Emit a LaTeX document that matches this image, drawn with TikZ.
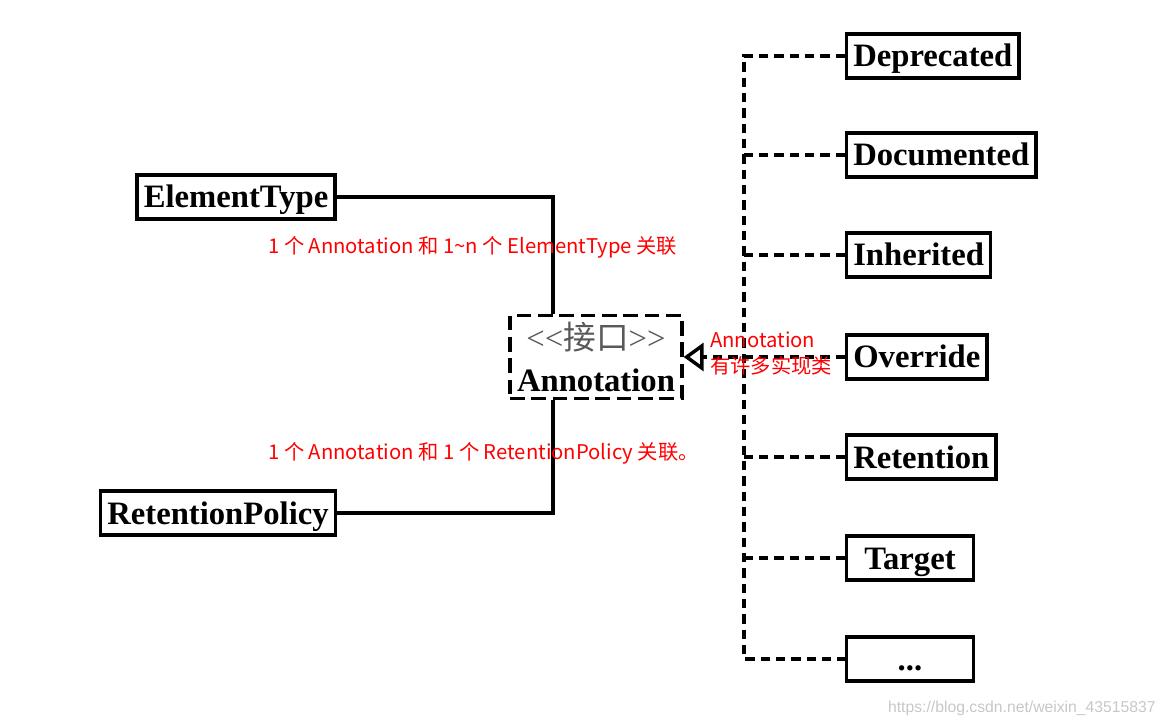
\documentclass[tikz,border=0pt]{standalone}
\usepackage{fontspec}
\setmainfont{Liberation Serif}
\newfontfamily\cjk{Noto Sans CJK SC}
\newfontfamily\wmfont{Liberation Sans}
\usetikzlibrary{arrows.meta,positioning}
\tikzset{
  uml/class/.style={draw, line width=2.4pt, font=\bfseries\fontsize{24.5}{28}\selectfont, minimum height=33pt, inner xsep=5pt, inner ysep=0pt, text height=18.5pt, text depth=2pt},
  uml/impl/.style={uml/class, anchor=west, minimum width=95pt},
  uml/iface/.style={draw, line width=2.4pt, dash pattern=on 11pt off 5pt, align=center, minimum width=129pt, minimum height=62pt, inner sep=0pt, font=\fontsize{24.5}{31.5}\selectfont},
  uml/assoc/.style={line width=2.6pt},
  uml/realize/.style={line width=2.6pt, dash pattern=on 7pt off 4.5pt},
  uml/note/.style={text=red, font=\cjk\fontsize{15.2}{19.5}\selectfont, inner sep=0pt},
  uml/mark/.style={text=black!22, font=\wmfont\fontsize{11.8}{14}\selectfont, inner sep=0pt}
}

\begin{document}
\begin{tikzpicture}[x=0.75pt, y=-0.75pt]
  \useasboundingbox (0,0) rectangle (1164,727);

  % interface in the middle
  \node[uml/iface] (annot) at (596,357) {{\color{black!65}<\kern0pt<{\cjk 接口}>\kern0pt>}\\\textbf{Annotation}};

  % associated classes
  \node[uml/class] (elemtype) at (236,197) {ElementType};
  \node[uml/class] (retpolicy) at (218,513) {RetentionPolicy};

  % implementing classes
  \node[uml/impl] (deprecated) at (845,56) {Deprecated};
  \node[uml/impl] (documented) at (845,155) {Documented};
  \node[uml/impl] (inherited) at (845,255) {Inherited};
  \node[uml/impl] (override) at (845,357) {Override};
  \node[uml/impl] (retention) at (845,457) {Retention};
  \node[uml/impl] (target) at (845,558) {Target};
  \node[uml/impl] (dots) at (845,659) {...};

  % associations
  \coordinate (etbend) at (553,197);
  \coordinate (rpbend) at (553,513);
  \draw[uml/assoc] (elemtype.east) -- (etbend) -- (etbend |- annot.north);
  \draw[uml/assoc] (retpolicy.east) -- (rpbend) -- (rpbend |- annot.south);

  % realizations
  \coordinate (trunk) at (744,56);
  \draw[uml/realize] (deprecated.west) -- (trunk) -- (trunk |- dots.west) -- (dots.west);
  \foreach \n in {documented,inherited,retention,target}
    \draw[uml/realize] (\n.west) -- (\n.west -| trunk);
  \draw[uml/realize, -{Triangle[open, length=15pt, width=21pt]}] (override.west) -- (annot.east);

  % notes
  \node[uml/note, anchor=west] (etnote) at (268,247) {1 个 Annotation 和 1\textasciitilde n 个 ElementType 关联};
  \node[uml/note, anchor=west] (rpnote) at (268,453) {1 个 Annotation 和 1 个 RetentionPolicy 关联。};
  \node[uml/note, anchor=north west, align=left] (implnote) at (710,332) {Annotation\\有许多实现类};

  \node[uml/mark, anchor=east] (mark) at (1156,708) {https://blog.csdn.net/weixin\_43515837};
\end{tikzpicture}
\end{document}
